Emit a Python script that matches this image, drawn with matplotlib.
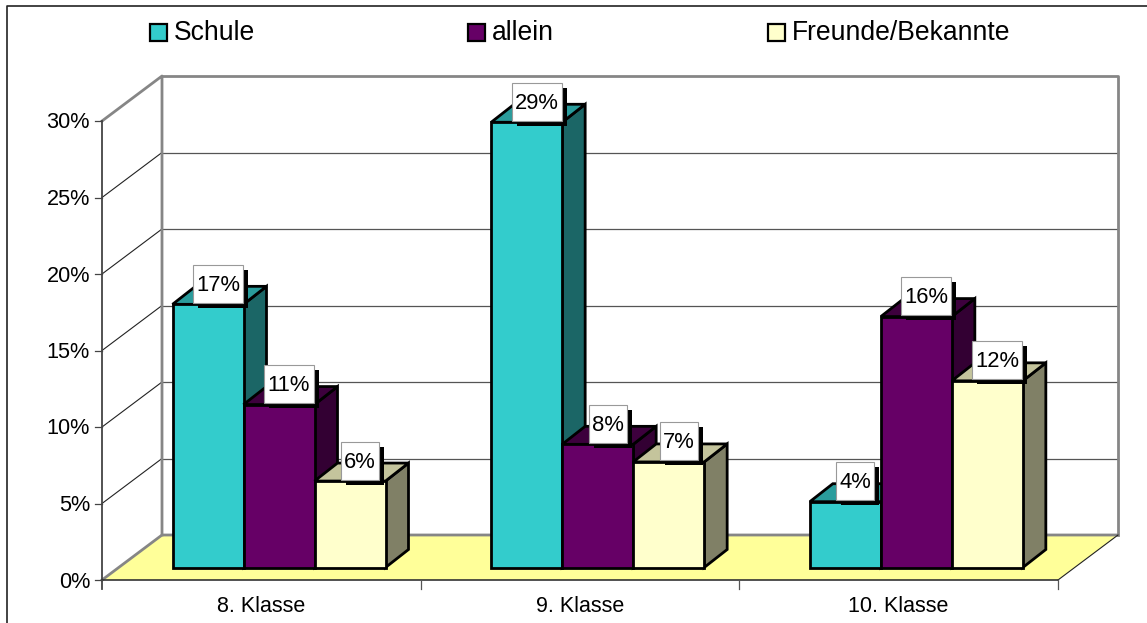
import matplotlib
matplotlib.use("Agg")
import matplotlib.pyplot as plt
from matplotlib.patches import Polygon, Rectangle

plt.rcParams['font.family'] = ['Liberation Sans', 'DejaVu Sans']

# ------------------------------------------------------------------
# Datos
# ------------------------------------------------------------------
klassen = ["8. Klasse", "9. Klasse", "10. Klasse"]
serien = ["Schule", "allein", "Freunde/Bekannte"]
schule = [17.2, 29.1, 4.3]
allein = [10.65, 8.05, 16.4]
freunde = [5.65, 6.9, 12.2]
etiketten = [["17%", "29%", "4%"], ["11%", "8%", "16%"], ["6%", "7%", "12%"]]
y_ticks = [0, 5, 10, 15, 20, 25, 30]

werte = [schule, allein, freunde]
front = ["#33CCCC", "#660066", "#FFFFCC"]
oben = ["#2A9C9C", "#3D003D", "#C4C49C"]
seite = ["#1B6666", "#330033", "#808066"]

# ------------------------------------------------------------------
# Geometría en píxeles (proyección oblicua del gráfico 3D)
# ------------------------------------------------------------------
X0, X1 = 102, 1058      # plano frontal
Y0 = 580                # 0% en el plano frontal
PX_PCT = 15.3           # píxeles por punto porcentual
DX, DY = 60, 45         # profundidad de la pared
BX, BY = 16, 12         # posición de las barras en la profundidad
BD_X, BD_Y = 23, 18     # profundidad de las barras
BAR_W = 71
BAR_OFF = 55
CAT_W = (X1 - X0) / 3


def ypx(v):
    return Y0 - v * PX_PCT


fig = plt.figure(figsize=(11.47, 6.23), dpi=100)
ax = fig.add_axes([0, 0, 1, 1])
ax.set_xlim(0, 1147)
ax.set_ylim(623, 0)
ax.axis('off')

# Marco exterior (solo arriba y a la izquierda)
ax.plot([7, 7, 1147], [623, 6, 6], color='#222222', lw=1.2, zorder=1)

# Suelo
ax.add_patch(Polygon([(X0, Y0), (X0 + DX, Y0 - DY), (X1 + DX, Y0 - DY), (X1, Y0)],
                     closed=True, facecolor='#FFFF99', edgecolor='none', zorder=2))

# Rejilla: pared trasera y pared izquierda
for t in y_ticks[1:-1]:
    ax.plot([X0 + DX, X1 + DX], [ypx(t) - DY] * 2, color='#555555', lw=0.9, zorder=2)
    ax.plot([X0, X0 + DX], [ypx(t), ypx(t) - DY], color='#222222', lw=0.8, zorder=2)

# Bordes grises de las paredes
gris = '#868686'
ax.plot([X0, X0 + DX, X0 + DX], [ypx(30), ypx(30) - DY, Y0 - DY], color=gris, lw=2, zorder=3)
ax.plot([X0 + DX, X1 + DX, X1 + DX], [ypx(30) - DY, ypx(30) - DY, Y0 - DY], color=gris, lw=2, zorder=3)
ax.plot([X0, X0 + DX, X1 + DX], [Y0, Y0 - DY, Y0 - DY], color=gris, lw=2, zorder=3)
ax.plot([X1, X1 + DX], [Y0, Y0 - DY], color='#222222', lw=0.8, zorder=3)

# Ejes
ax.plot([X0, X0], [ypx(30), Y0 + 9], color='#444444', lw=1.3, zorder=4)
ax.plot([X0, X1], [Y0, Y0], color='#333333', lw=1.2, zorder=4)
for t in y_ticks:
    ax.plot([X0 - 7, X0], [ypx(t), ypx(t)], color='#444444', lw=0.9, zorder=4)
    ax.text(X0 - 12, ypx(t) + 2, f"{t}%", ha='right', va='center', fontsize=15.6,
            color='black', zorder=4)
for i in range(1, 4):
    ax.plot([X0 + i * CAT_W] * 2, [Y0, Y0 + 9], color='#555555', lw=0.9, zorder=4)
for i, k in enumerate(klassen):
    ax.text(X0 + (i + 0.5) * CAT_W, 606, k, ha='center', va='center', fontsize=15.5,
            color='black', zorder=4)

# Barras
z = 5
for i in range(len(klassen)):
    for j, serie in enumerate(werte):
        v = serie[i]
        xa = X0 + BX + i * CAT_W + BAR_OFF + j * BAR_W - 0.5
        xb = xa + BAR_W
        yb = Y0 - BY - 0.5
        yt = yb - v * PX_PCT
        estilo = dict(closed=True, edgecolor='black', lw=2.0, joinstyle='miter', zorder=z)
        ax.add_patch(Polygon([(xb, yb), (xb + BD_X, yb - BD_Y), (xb + BD_X, yt - BD_Y), (xb, yt)],
                             facecolor=seite[j], **estilo))
        ax.add_patch(Polygon([(xa, yt), (xa + BD_X, yt - BD_Y), (xb + BD_X, yt - BD_Y), (xb, yt)],
                             facecolor=oben[j], **estilo))
        ax.add_patch(Polygon([(xa, yb), (xa, yt), (xb, yt), (xb, yb)],
                             facecolor=front[j], **estilo))
        z += 1

# Etiquetas de datos con sombra
for i in range(len(klassen)):
    for j, serie in enumerate(werte):
        v = serie[i]
        xa = X0 + BX + i * CAT_W + BAR_OFF + j * BAR_W
        yt = Y0 - BY - v * PX_PCT
        txt = etiketten[j][i]
        w = 50 if len(txt) == 3 else 38
        xc = xa + BAR_W / 2 + 9.5
        ax.add_patch(Rectangle((xc - w / 2 + 5, yt - 40 + 5), w, 38, facecolor='black',
                               edgecolor='none', zorder=50))
        ax.add_patch(Rectangle((xc - w / 2, yt - 40), w, 38, facecolor='white',
                               edgecolor='#999999', lw=0.8, zorder=51))
        ax.text(xc, yt - 19.5, txt, ha='center', va='center', fontsize=15.8,
                color='black', zorder=52)

# Leyenda
for x_sw, nombre, color in zip([150, 468, 768], serien, front):
    ax.add_patch(Rectangle((x_sw, 24), 17, 17, facecolor=color, edgecolor='black', lw=1.6, zorder=5))
    ax.text(x_sw + 24, 33.5, nombre, ha='left', va='center', fontsize=19.1, color='black', zorder=5)

fig.savefig("out.png", dpi=100)
